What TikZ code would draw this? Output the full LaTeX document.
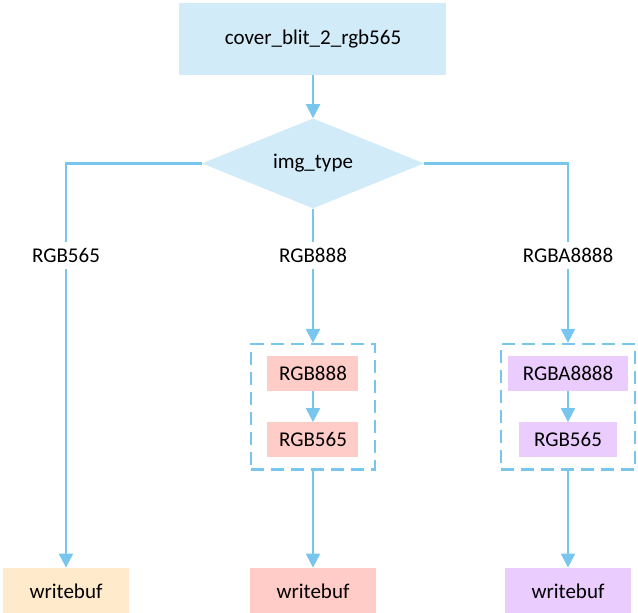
\documentclass[tikz,border=0pt]{standalone}
\usepackage{fontspec}
\setmainfont{Carlito}
\usetikzlibrary{positioning,shapes.geometric,fit,arrows.meta}
\definecolor{lineblue}{RGB}{120,198,238}
\definecolor{boxblue}{RGB}{209,235,248}
\definecolor{boxpink}{RGB}{255,204,199}
\definecolor{boxpurple}{RGB}{235,204,255}
\definecolor{boxbeige}{RGB}{255,234,204}

\begin{document}
\begin{tikzpicture}[auto, node distance=2.0cm,
			every node/.style={font=\fontsize{21pt}{25pt}\selectfont},
			main node/.style={fill=boxblue,minimum width=267pt,minimum height=72pt},
			decision/.style={diamond,fill=boxblue,aspect=2.47,inner sep=0pt,minimum width=222pt,minimum height=90pt},
			lbl/.style={inner sep=2pt,minimum height=27pt},
			conv box/.style={minimum height=35pt,inner sep=0pt},
			out box/.style={minimum width=126pt,minimum height=46pt},
			group/.style={draw=lineblue,line width=2.2pt,dash pattern=on 13pt off 7pt,inner ysep=12pt},
			link/.style={draw=lineblue,line width=2.2pt},
			arrow/.style={-{Triangle[width=14pt,length=14pt]}}]
			
			\useasboundingbox (-313pt,39pt) rectangle (325pt,-574pt);
			
			\node[main node] (cover) at (0,0) {cover\_blit\_2\_rgb565};
			\node[decision] (type) [below=43pt of cover] {img\_type};
			\node[lbl] (l888) [below=33pt of type] {RGB888};
			\node[lbl] (l565) at ([xshift=-247pt]l888) {RGB565};
			\node[lbl] (l8888) at ([xshift=255pt]l888) {RGBA8888};
			
			\node[conv box,fill=boxpink,minimum width=91pt] (c888) [below=87pt of l888] {RGB888};
			\node[conv box,fill=boxpink,minimum width=91pt] (c565) [below=30.7pt of c888] {RGB565};
			\node[group,fit=(c888)(c565),inner xsep=16pt] (g888) {};
			
			\node[conv box,fill=boxpurple,minimum width=120pt] (a8888) [below=87pt of l8888] {RGBA8888};
			\node[conv box,fill=boxpurple,minimum width=98pt] (a565) [below=30.7pt of a8888] {RGB565};
			\node[group,fit=(a8888)(a565),inner xsep=7pt] (g8888) {};
			
			\node[out box,fill=boxpink] (w888) [below=97pt of g888] {writebuf};
			\node[out box,fill=boxbeige] (w565) at ([xshift=-247pt]w888) {writebuf};
			\node[out box,fill=boxpurple] (w8888) at ([xshift=255pt]w888) {writebuf};
			
			\draw[link] (type.west) -| (l565);
			\draw[link] (type.east) -| (l8888);
			
			\path[link]
			(cover)
			edge[link,arrow] (type)
			
			(type)
			edge[link] (l888)
			
			(l565)
			edge[link,arrow] (w565)
			
			(l888)
			edge[link,arrow] (g888)
			(c888)
			edge[link,arrow] (c565)
			(g888)
			edge[link,arrow] (w888)
			
			(l8888)
			edge[link,arrow] (g8888)
			(a8888)
			edge[link,arrow] (a565)
			(g8888)
			edge[link,arrow] (w8888)
			;
			\end{tikzpicture}
\end{document}
